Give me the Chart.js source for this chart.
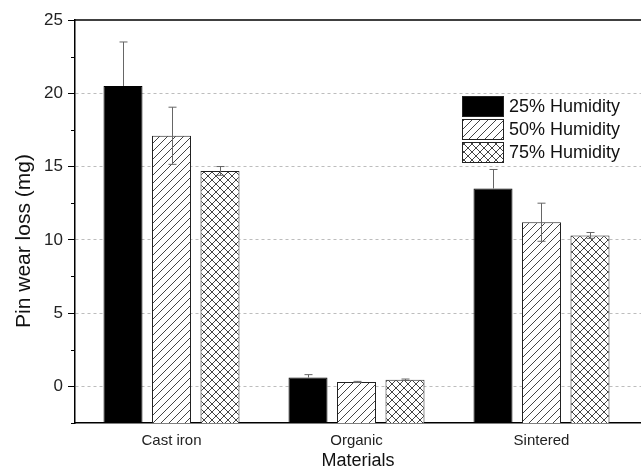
<!DOCTYPE html>
<html><head><meta charset="utf-8">
<script src="https://cdn.jsdelivr.net/npm/chart.js@4"></script>
<style>html,body{margin:0;padding:0;background:#fff}#wrap{width:641px;height:472px}</style>
</head><body><div id="wrap"><canvas id="c" width="641" height="472"></canvas></div>
<script>
const categories = ["Cast iron", "Organic", "Sintered"];
const seriesLabels = ["25% Humidity", "50% Humidity", "75% Humidity"];
const humidity25 = [20.5, 0.6, 13.5];
const humidity50 = [17.1, 0.3, 11.2];
const humidity75 = [14.7, 0.45, 10.3];
const err25 = [3.0, 0.2, 1.3];
const err50 = [1.95, 0.04, 1.3];
const err75 = [0.3, 0.05, 0.2];
const yTicks = [0, 5, 10, 15, 20, 25];
const yMinorTicks = [-2.5, 2.5, 7.5, 12.5, 17.5, 22.5];
const xTitle = "Materials";
const yTitle = "Pin wear loss (mg)";

const FONT = "'Liberation Sans', Arial, sans-serif";

function makePattern(cross) {
  const s = 8;
  const c = document.createElement('canvas');
  c.width = s; c.height = s;
  const g = c.getContext('2d');
  g.fillStyle = '#fff'; g.fillRect(0, 0, s, s);
  g.strokeStyle = '#444'; g.lineWidth = 1;
  g.beginPath();
  g.moveTo(-1, s + 1); g.lineTo(s + 1, -1);
  g.moveTo(-1, 1); g.lineTo(1, -1);
  g.moveTo(s - 1, s + 1); g.lineTo(s + 1, s - 1);
  if (cross) {
    g.moveTo(-1, -1); g.lineTo(s + 1, s + 1);
    g.moveTo(s - 1, -1); g.lineTo(s + 1, 1);
    g.moveTo(-1, s - 1); g.lineTo(1, s + 1);
  }
  g.stroke();
  return g.createPattern(c, 'repeat');
}

const ctx = document.getElementById('c').getContext('2d');
const hatch = makePattern(false);
const crossHatch = makePattern(true);

const toPoints = arr => categories.map((c, i) => ({ x: i + 1, y: arr[i] }));
const errors = [err25, err50, err75];

const errorBarPlugin = {
  id: 'errorBars',
  afterDatasetsDraw(chart) {
    const g = chart.ctx;
    const ys = chart.scales.y;
    g.save();
    g.strokeStyle = '#666';
    g.lineWidth = 1;
    chart.data.datasets.forEach((ds, di) => {
      const meta = chart.getDatasetMeta(di);
      meta.data.forEach((el, i) => {
        const v = ds.data[i].y, e = errors[di][i];
        const x = Math.round(el.x) + 0.5;
        const top = ys.getPixelForValue(v + e);
        const bot = di === 0 ? ys.getPixelForValue(v) : ys.getPixelForValue(v - e);
        g.beginPath();
        g.moveTo(x, top); g.lineTo(x, bot);
        g.moveTo(x - 4, top); g.lineTo(x + 4, top);
        if (di !== 0) { g.moveTo(x - 4, bot); g.lineTo(x + 4, bot); }
        g.stroke();
      });
    });
    g.restore();
  }
};

const decorPlugin = {
  id: 'decor',
  afterDraw(chart) {
    const g = chart.ctx;
    const a = chart.chartArea;
    const ys = chart.scales.y;
    g.save();
    g.strokeStyle = '#000'; g.lineWidth = 1.5;
    g.beginPath(); g.moveTo(a.left, a.top); g.lineTo(chart.width, a.top); g.stroke();
    g.lineWidth = 1;
    yMinorTicks.forEach(v => {
      const y = Math.round(ys.getPixelForValue(v)) + 0.5;
      g.beginPath(); g.moveTo(a.left - 4, y); g.lineTo(a.left, y); g.stroke();
    });
    g.fillStyle = '#111';
    g.font = '21px ' + FONT;
    g.textAlign = 'center'; g.textBaseline = 'middle';
    g.translate(24, 241); g.rotate(-Math.PI / 2);
    g.fillText(yTitle, 0, 0);
    g.restore();
    g.save();
    const bx = 462, bw = 41, bh = 20, rows = [96, 119, 142];
    chart.data.datasets.forEach((ds, i) => {
      g.fillStyle = ds.backgroundColor;
      g.fillRect(bx, rows[i], bw, bh);
      g.strokeStyle = '#222'; g.lineWidth = 1;
      g.strokeRect(bx + 0.5, rows[i] + 0.5, bw, bh);
      g.fillStyle = '#111';
      g.font = '18px ' + FONT;
      g.textAlign = 'left'; g.textBaseline = 'middle';
      g.fillText(ds.label, 509, rows[i] + bh / 2 + 1);
    });
    g.restore();
  }
};

new Chart(ctx, {
  type: 'bar',
  data: {
    datasets: [
      { label: seriesLabels[0], data: toPoints(humidity25), base: -2.5, backgroundColor: '#000', borderColor: '#000', borderWidth: 1 },
      { label: seriesLabels[1], data: toPoints(humidity50), base: -2.5, backgroundColor: hatch, borderColor: '#222', borderWidth: 1 },
      { label: seriesLabels[2], data: toPoints(humidity75), base: -2.5, backgroundColor: crossHatch, borderColor: '#222', borderWidth: 1 }
    ]
  },
  options: {
    responsive: false,
    animation: false,
    devicePixelRatio: 1,
    layout: { padding: { left: 0, right: 0, top: 20, bottom: 0 } },
    categoryPercentage: 0.7865,
    barPercentage: 0.804,
    plugins: { legend: { display: false }, tooltip: { enabled: false } },
    scales: {
      x: {
        type: 'linear',
        offset: false,
        min: 1 - 96.5 / 185,
        max: 1 - 96.5 / 185 + 566 / 185,
        afterBuildTicks(s) { s.ticks = categories.map((c, i) => ({ value: i + 1 })); },
        afterFit(s) { s.height = 49; },
        grid: { display: false, drawTicks: false, offset: false },
        border: { display: true, color: '#000', width: 1.5 },
        ticks: {
          padding: 9,
          color: '#222',
          font: { family: FONT, size: 15 },
          callback: v => categories[Math.round(v) - 1] || ''
        },
        title: { display: true, text: xTitle, color: '#111', font: { family: FONT, size: 18 }, padding: { top: 0, bottom: 0 } }
      },
      y: {
        min: -2.5,
        max: 25,
        afterBuildTicks(s) { s.ticks = yTicks.map(v => ({ value: v })); },
        afterFit(s) { s.width = 75; },
        grid: {
          color: c => (c.tick && c.tick.value === 25) ? 'rgba(0,0,0,0)' : '#bdbdbd',
          tickColor: '#000',
          tickLength: 7,
          tickWidth: 1,
          lineWidth: 1
        },
        border: { display: true, color: '#000', width: 1.5, dash: [3, 3] },
        ticks: { padding: 5, color: '#222', font: { family: FONT, size: 17 } },
        title: { display: false }
      }
    }
  },
  plugins: [errorBarPlugin, decorPlugin]
});
</script>
</body></html>
